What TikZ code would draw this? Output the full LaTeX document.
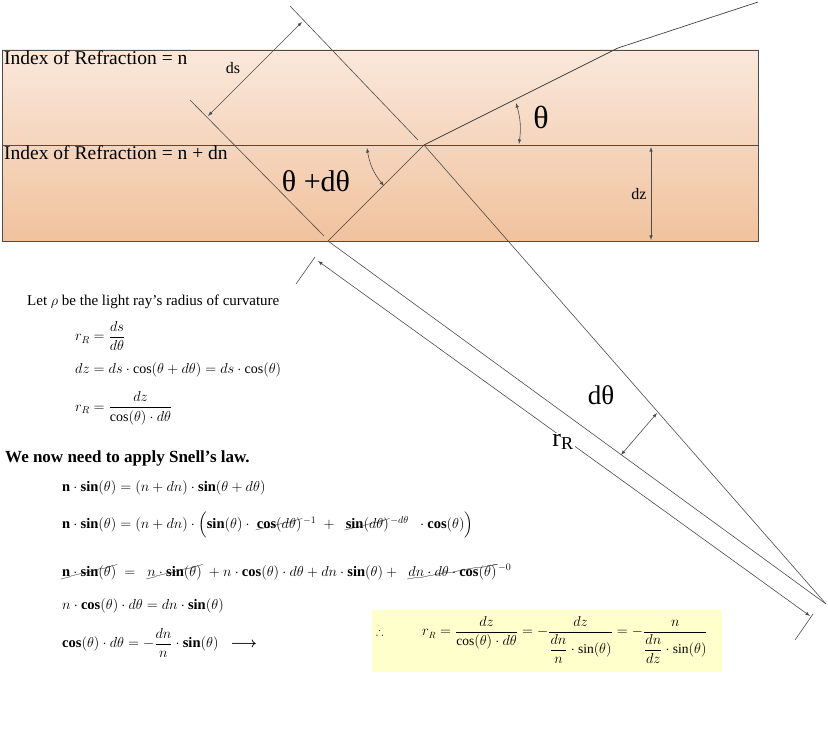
\documentclass[tikz,border=0pt]{standalone}
\usepackage{fontspec}
\setmainfont{Liberation Serif}
\usepackage{amsmath,amssymb}
\usepackage{cancel}
\usetikzlibrary{positioning}
\definecolor{layertop}{HTML}{FAE8DB}
\definecolor{layermid}{HTML}{F5D5BD}
\definecolor{layerlow}{HTML}{F1C29D}
\definecolor{boxyellow}{HTML}{FFFFCC}
\tikzset{
	ray/.style={draw=black!75, line width=0.7pt},
	guide/.style={draw=black!70, line width=0.6pt},
	dim/.style={draw=black!70, line width=0.6pt, <->, >=latex},
	eq/.style={anchor=west, inner sep=0pt, font=\fontsize{14.5}{17}\selectfont},
	smalleq/.style={anchor=west, inner sep=0pt, font=\fontsize{14}{16}\selectfont},
}
\newcommand{\bsin}{\mathbf{sin}}
\newcommand{\bcos}{\mathbf{cos}}
\begin{document}
\begin{tikzpicture}[x=1pt,y=-1pt]
	\useasboundingbox (0,0) rectangle (828,730);
	%% layers
	\shade[top color=layertop, bottom color=layermid] (2,50) rectangle (758,145);
	\shade[top color=layermid, bottom color=layerlow] (2,145) rectangle (758,241);
	\draw[black!70] (2,50) rectangle (758,241);
	\draw[black!70] (2,145) -- (758,145);
	\node[anchor=north west, inner sep=1pt, font=\fontsize{19.5}{21}\selectfont] (n1) at (3,50) {Index of Refraction = n};
	\node[anchor=north west, inner sep=1pt, font=\fontsize{19.5}{21}\selectfont] (n2) at (3,145) {Index of Refraction = n + dn};
	%% ray and geometry points
	\coordinate (p0) at (758,2);
	\coordinate (p1) at (618,48);
	\coordinate (p2) at (424,145);
	\coordinate (p3) at (328,241);
	\coordinate (c) at (826,604);
	\coordinate (g1) at (290,6);
	\coordinate (g2) at (418,140);
	\coordinate (h1) at (190,100);
	\coordinate (h2) at (324,236);
	\draw[ray] (p0) -- (p1) -- (p2) -- (p3);
	\draw[guide] (g1) -- (g2);
	\draw[guide] (h1) -- (h2);
	\draw[guide] (p2) -- (c);
	\draw[guide] (p3) -- (c);
	%% ds
	\coordinate (ds1) at (302,22);
	\coordinate (ds2) at (208,116);
	\draw[dim] (ds1) -- (ds2);
	\node[font=\fontsize{16}{18}\selectfont] (dslbl) at (233,68) {ds};
	%% angles
	\coordinate (t1) at (516,103);
	\coordinate (t2) at (519,144);
	\draw[dim] (t1) to[bend left=12] (t2);
	\node[font=\fontsize{32}{34}\selectfont] (tlbl) at (541,117) {θ};
	\coordinate (u1) at (367,148);
	\coordinate (u2) at (384,186);
	\draw[dim] (u1) to[bend right=15] (u2);
	\node[font=\fontsize{30}{32}\selectfont] (ulbl) at (316,181) {θ +dθ};
	%% dz
	\coordinate (dz1) at (651,147);
	\coordinate (dz2) at (651,240);
	\draw[dim] (dz1) -- (dz2);
	\node[font=\fontsize{16}{18}\selectfont] (dzlbl) at (639,194) {dz};
	%% radius
	\coordinate (r1) at (318,261);
	\coordinate (r2) at (810,616);
	\draw[guide] (296,284) -- (315,257);
	\draw[guide] (795,640) -- (813,614);
	\draw[dim] (r1) -- (r2);
	\node[fill=white, inner sep=1pt, font=\fontsize{26}{28}\selectfont] (rlbl) at (563,442) {r\textsubscript{R}};
	\coordinate (a1) at (621,455);
	\coordinate (a2) at (657,413);
	\draw[dim] (a1) -- (a2);
	\node[font=\fontsize{27}{29}\selectfont] (albl) at (601,395) {dθ};
	%% derivation
	\node[anchor=west, inner sep=0pt, font=\fontsize{15}{17}\selectfont] (let) at (27,302) {Let $\rho$ be the light ray's radius of curvature};
	\node[smalleq] (e1) at (75,336) {$r_R=\dfrac{ds}{d\theta}$};
	\node[smalleq] (e2) at (75,370) {$dz=ds\cdot\cos(\theta+d\theta)=ds\cdot\cos(\theta)$};
	\node[smalleq] (e3) at (75,408) {$r_R=\dfrac{dz}{\cos(\theta)\cdot d\theta}$};
	\node[anchor=west, inner sep=0pt, font=\bfseries\fontsize{17}{19}\selectfont] (snell) at (5,458) {We now need to apply Snell's law.};
	\node[eq] (s1) at (62,488) {$\mathbf{n}\cdot\bsin(\theta)=(n+dn)\cdot\bsin(\theta+d\theta)$};
	\node[eq] (s2) at (62,525) {$\mathbf{n}\cdot\bsin(\theta)=(n+dn)\cdot\Bigl(\bsin(\theta)\cdot\;\cancel{\bcos(d\theta)}^{\,-1}\;+\;\;\cancel{\bsin(d\theta)}^{\,-d\theta}\;\;\cdot\bcos(\theta)\Bigr)$};
	\node[eq] (s3) at (62,572) {$\cancel{\mathbf{n}\cdot\bsin(\theta)}\;=\;\;\cancel{n\cdot\bsin(\theta)}\;+n\cdot\bcos(\theta)\cdot d\theta+dn\cdot\bsin(\theta)+\;\;\cancel{dn\cdot d\theta\cdot\bcos(\theta)}^{\,-0}$};
	\node[eq] (s4) at (62,606) {$n\cdot\bcos(\theta)\cdot d\theta=dn\cdot\bsin(\theta)$};
	\node[eq] (s5) at (62,643) {$\bcos(\theta)\cdot d\theta=-\dfrac{dn}{n}\cdot\bsin(\theta)\;\;\boldsymbol{\longrightarrow}$};
	%% result box
	\node[fill=boxyellow, minimum width=350pt, minimum height=62pt, anchor=north west, inner sep=0pt] (res) at (372,610) {};
	\node[anchor=west, inner sep=0pt, font=\fontsize{11}{13}\selectfont] (thf) at (376,632) {$\therefore$};
	\node[eq, font=\fontsize{13.5}{15}\selectfont] (rr) at (422,640) {$r_R=\dfrac{dz}{\cos(\theta)\cdot d\theta}=-\dfrac{dz}{\dfrac{dn}{n}\cdot\sin(\theta)}=-\dfrac{n}{\dfrac{dn}{dz}\cdot\sin(\theta)}$};
\end{tikzpicture}
\end{document}
